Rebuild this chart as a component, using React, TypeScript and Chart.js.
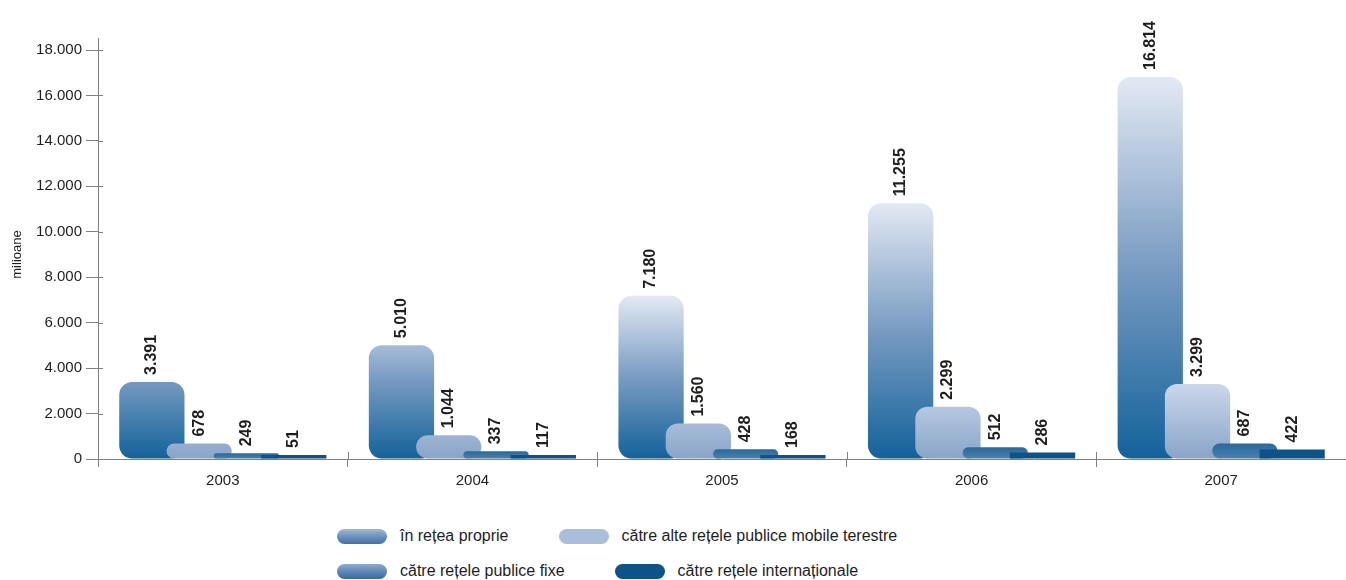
import React, { useEffect, useRef } from "react";
import { Chart, registerables } from "chart.js";

Chart.register(...registerables);

// ---------- data ----------
const categories = ["2003", "2004", "2005", "2006", "2007"];
const seriesNames = [
  "în rețea proprie",
  "către alte rețele publice mobile terestre",
  "către rețele publice fixe",
  "către rețele internaționale",
];
const reteaProprie = [3391, 5010, 7180, 11255, 16814];
const alteMobile = [678, 1044, 1560, 2299, 3299];
const publiceFixe = [249, 337, 428, 512, 687];
const internationale = [51, 117, 168, 286, 422];
const yAxisTitle = "milioane";
const yMin = 0;
const yMax = 18000;
const yStep = 2000;

// ---------- styling ----------
const FONT = "'Liberation Sans', Arial, Helvetica, sans-serif";
const AXIS_COLOR = "#808080";
const TEXT_COLOR = "#1e1e1e";

function fmt(v: number): string {
  return String(Math.round(v)).replace(/\B(?=(\d{3})+(?!\d))/g, ".");
}

function barGradient(stops: [number, string][], minSpan: number, fallback: string) {
  return (ctx: any) => {
    if (ctx.type !== "data") return fallback;
    const chart = ctx.chart;
    const ys = chart.scales && chart.scales.y;
    if (!ys) return fallback;
    const v = Number(ctx.raw);
    const y0 = ys.getPixelForValue(0);
    const y1 = ys.getPixelForValue(Math.max(v, minSpan));
    if (!isFinite(y0) || !isFinite(y1) || Math.abs(y0 - y1) < 0.5) return fallback;
    const g = chart.ctx.createLinearGradient(0, y0, 0, y1);
    stops.forEach(([o, c]) => g.addColorStop(o, c));
    return g;
  };
}

const customDraw = {
  id: "customDraw",
  beforeDatasetsDraw(chart: any) {
    const ctx = chart.ctx;
    // draw datasets in index order so later series overlap earlier ones
    for (let i = 0; i < chart.data.datasets.length; i++) {
      const meta = chart.getDatasetMeta(i);
      if (chart.isDatasetVisible(i)) meta.controller.draw();
    }
    // value labels
    ctx.save();
    ctx.font = `bold 16px ${FONT}`;
    ctx.fillStyle = TEXT_COLOR;
    ctx.textAlign = "left";
    ctx.textBaseline = "middle";
    chart.data.datasets.forEach((ds: any, i: number) => {
      const meta = chart.getDatasetMeta(i);
      meta.data.forEach((el: any, j: number) => {
        const v = ds.data[j];
        ctx.save();
        ctx.translate(el.x, el.y - 7);
        ctx.rotate(-Math.PI / 2);
        ctx.fillText(fmt(v), 0, 0);
        ctx.restore();
      });
    });
    ctx.restore();
    return false;
  },
  afterDraw(chart: any) {
    const ctx = chart.ctx;
    const ca = chart.chartArea;
    const xs = chart.scales.x;
    const ys = chart.scales.y;
    ctx.save();
    ctx.strokeStyle = AXIS_COLOR;
    ctx.lineWidth = 1;
    ctx.beginPath();
    // inner part of y ticks
    ys.ticks.forEach((_t: any, i: number) => {
      const py = Math.round(ys.getPixelForTick(i)) + 0.5;
      ctx.moveTo(ca.left, py);
      ctx.lineTo(ca.left + 5, py);
    });
    // y axis extension above the top tick
    const lx = Math.round(ca.left) + 0.5;
    ctx.moveTo(lx, ca.top);
    ctx.lineTo(lx, ca.top - 12);
    // inner part of x boundary ticks
    const n = categories.length;
    const c0 = xs.getPixelForValue(0);
    const w = n > 1 ? xs.getPixelForValue(1) - c0 : ca.right - ca.left;
    for (let i = 0; i <= n; i++) {
      const px = Math.round(c0 - w / 2 + i * w) + 0.5;
      ctx.moveTo(px, ca.bottom);
      ctx.lineTo(px, ca.bottom - 7);
    }
    ctx.stroke();
    // axis title
    ctx.fillStyle = TEXT_COLOR;
    ctx.font = `13px ${FONT}`;
    ctx.textAlign = "center";
    ctx.textBaseline = "middle";
    ctx.translate(17, (ca.top + ca.bottom) / 2);
    ctx.rotate(-Math.PI / 2);
    ctx.fillText(yAxisTitle, 0, 0);
    ctx.restore();
  },
};

const legendSwatches = [
  "linear-gradient(to bottom, #a2b9d7, #6d92bd 50%, #3f72a6)",
  "#a9bedb",
  "linear-gradient(to bottom, #90abcd, #5f88b7 50%, #356ba1)",
  "#0b5388",
];

export default function App() {
  const canvasRef = useRef<HTMLCanvasElement | null>(null);

  useEffect(() => {
    if (!canvasRef.current) return;
    const chart = new Chart(canvasRef.current, {
      type: "bar",
      data: {
        labels: categories,
        datasets: [
          {
            label: seriesNames[0],
            data: reteaProprie,
            backgroundColor: barGradient(
              [[0, "#13629a"], [0.5, "#789bc2"], [1, "#e3e9f3"]],
              7000,
              "#5f88b7"
            ),
            borderRadius: 13,
            borderSkipped: false,
          },
          {
            label: seriesNames[1],
            data: alteMobile,
            backgroundColor: barGradient(
              [[0, "#88a4c8"], [1, "#cbd7ea"]],
              3300,
              "#a9bedb"
            ),
            borderRadius: 12,
            borderSkipped: false,
          },
          {
            label: seriesNames[2],
            data: publiceFixe,
            backgroundColor: barGradient(
              [[0, "#4c81b1"], [1, "#28699b"]],
              0,
              "#3a74a6"
            ),
            borderRadius: 14,
            borderSkipped: false,
          },
          {
            label: seriesNames[3],
            data: internationale,
            backgroundColor: "#0b5388",
            borderRadius: 0,
            minBarLength: 4,
          },
        ],
      },
      options: {
        animation: false,
        responsive: false,
        devicePixelRatio: 1,
        layout: { padding: { top: 50, left: 0, right: 0, bottom: 0 } },
        datasets: {
          bar: {
            categoryPercentage: 0.758,
            barPercentage: 1.38,
          },
        },
        plugins: {
          legend: { display: false },
          tooltip: { enabled: false },
        },
        scales: {
          x: {
            grid: {
              display: true,
              drawOnChartArea: false,
              drawTicks: true,
              tickLength: 8,
              color: AXIS_COLOR,
              offset: true,
            },
            border: { display: true, color: AXIS_COLOR, width: 1 },
            ticks: {
              color: TEXT_COLOR,
              font: { family: FONT, size: 15 },
              padding: 5,
              maxRotation: 0,
              autoSkip: false,
            },
            afterFit: (scale: any) => {
              scale.height = 51;
            },
          },
          y: {
            min: yMin,
            max: yMax,
            grid: {
              display: true,
              drawOnChartArea: false,
              drawTicks: true,
              tickLength: 12,
              color: AXIS_COLOR,
            },
            border: { display: true, color: AXIS_COLOR, width: 1 },
            ticks: {
              stepSize: yStep,
              color: TEXT_COLOR,
              font: { family: FONT, size: 15 },
              padding: 4,
              callback: (v: any) => fmt(Number(v)),
            },
            afterFit: (scale: any) => {
              scale.width = 98;
            },
          },
        },
      },
      plugins: [customDraw],
    });
    return () => chart.destroy();
  }, []);

  return (
    <div
      style={{
        position: "absolute",
        left: 0,
        top: 0,
        width: 1346,
        height: 580,
        background: "#ffffff",
        fontFamily: FONT,
      }}
    >
      <canvas
        ref={canvasRef}
        width={1346}
        height={510}
        style={{ display: "block", width: 1346, height: 510 }}
      />
      <div
        style={{
          position: "absolute",
          left: 337,
          top: 526,
          display: "flex",
          flexDirection: "column",
          gap: 15,
        }}
      >
        {[0, 2].map((start) => (
          <div
            key={start}
            style={{ display: "flex", alignItems: "center", height: 20 }}
          >
            {[start, start + 1].map((i) => (
              <div
                key={i}
                style={{
                  display: "flex",
                  alignItems: "center",
                  marginRight: 50,
                }}
              >
                <span
                  style={{
                    display: "inline-block",
                    width: 50,
                    height: 15,
                    borderRadius: 7.5,
                    background: legendSwatches[i],
                    marginRight: 13,
                  }}
                />
                <span style={{ fontSize: 16, color: TEXT_COLOR, whiteSpace: "nowrap" }}>
                  {seriesNames[i]}
                </span>
              </div>
            ))}
          </div>
        ))}
      </div>
    </div>
  );
}
